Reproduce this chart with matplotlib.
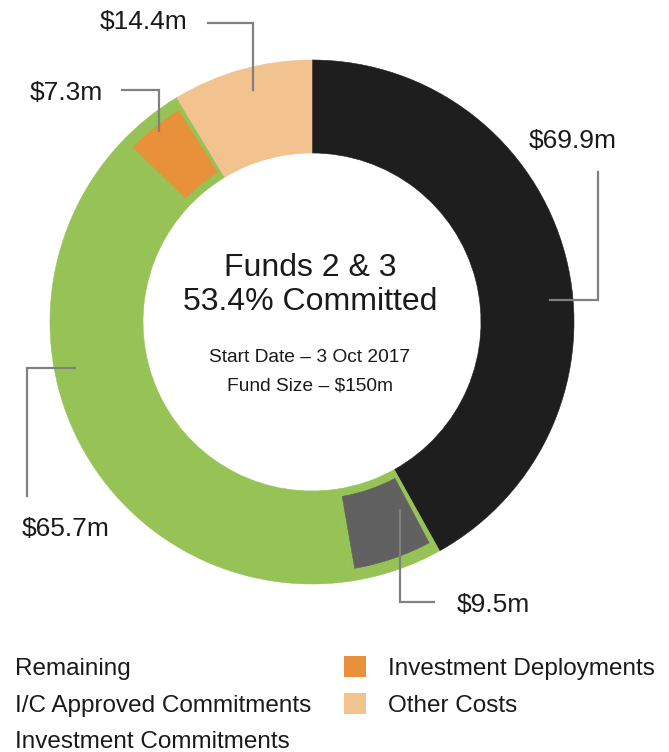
import matplotlib.pyplot as plt
from matplotlib.patches import Wedge, Rectangle

plt.rcParams['font.family'] = ['Liberation Sans', 'DejaVu Sans']

# Fund allocation ($m), clockwise from 12 o'clock
categories = ["Investment Commitments", "I/C Approved Commitments", "Remaining",
              "Investment Deployments", "Other Costs"]
values = [69.9, 9.5, 65.7, 7.3, 14.4]
labels = ["$69.9m", "$9.5m", "$65.7m", "$7.3m", "$14.4m"]
colors = ["#1e1e1e", "#616161", "#97c255", "#e8913a", "#f2c38f"]
inset = ["I/C Approved Commitments", "Investment Deployments"]

title_lines = ["Funds 2 & 3", "53.4% Committed"]
sub_lines = ["Start Date \u2013 3 Oct 2017", "Fund Size \u2013 $150m"]

W, H = 669, 752
fig = plt.figure(figsize=(W / 100, H / 100), dpi=100)
ax = fig.add_axes([0, 0, 1, 1])

cx, cy = 312, H - 322
r_out, ring = 262, 93
green = colors[categories.index("Remaining")]

wedges, _ = ax.pie(values, colors=colors, startangle=90, counterclock=False,
                   radius=r_out, center=(cx, cy),
                   wedgeprops=dict(width=ring, linewidth=0.4))
for w, c in zip(wedges, colors):
    w.set_edgecolor(c)

# inset segments sit inside the green band
for w, cat, c in zip(wedges, categories, colors):
    if cat in inset:
        w.set_facecolor(green)
        w.set_edgecolor(green)
        ax.add_patch(Wedge((cx, cy), r_out - 12, w.theta1 + 1.2, w.theta2 - 1.2,
                           width=ring - 12 - 8, facecolor=c, edgecolor=c, linewidth=0.4))

ax.set_xlim(0, W)
ax.set_ylim(0, H)
ax.set_aspect('equal')
ax.axis('off')

# leader lines (image pixel coords, y down) and label positions
line_col = "#808080"
leaders = {
    "$69.9m": ([550, 598, 598], [300, 300, 172], (573, 141)),
    "$9.5m": ([400, 400, 434], [510, 602, 602], (493, 605)),
    "$65.7m": ([75, 27, 27], [368, 368, 496], (66, 529)),
    "$7.3m": ([159, 159, 122], [131, 90, 90], (66, 93)),
    "$14.4m": ([253, 253, 208], [90, 23, 23], (144, 22)),
}
for lab in labels:
    xs, ys, (tx, ty) = leaders[lab]
    ax.plot(xs, [H - y for y in ys], color=line_col, lw=1.6, solid_joinstyle='miter')
    ax.text(tx, H - ty, lab, fontsize=19, ha='center', va='center', color="#1a1a1a")

for txt, y in zip(title_lines, [268, 302]):
    ax.text(cx - 2, H - y, txt, fontsize=23, ha='center', va='center', color="#1a1a1a")
for txt, y in zip(sub_lines, [358, 386]):
    ax.text(cx - 2, H - y, txt, fontsize=13.8, ha='center', va='center', color="#1a1a1a")

# legend
left = ["Remaining", "I/C Approved Commitments", "Investment Commitments"]
right = ["Investment Deployments", "Other Costs"]
rows = [669, 706, 742]
for name, y in zip(left, rows):
    ax.text(15, H - y, name, fontsize=17.5, ha='left', va='center', color="#1a1a1a")
for name, y in zip(right, rows):
    c = colors[categories.index(name)]
    ax.add_patch(Rectangle((344, H - y - 8), 22, 21, facecolor=c, edgecolor='none'))
    ax.text(388, H - y, name, fontsize=17.5, ha='left', va='center', color="#1a1a1a")

fig.savefig("out.png", dpi=100, facecolor="white")
